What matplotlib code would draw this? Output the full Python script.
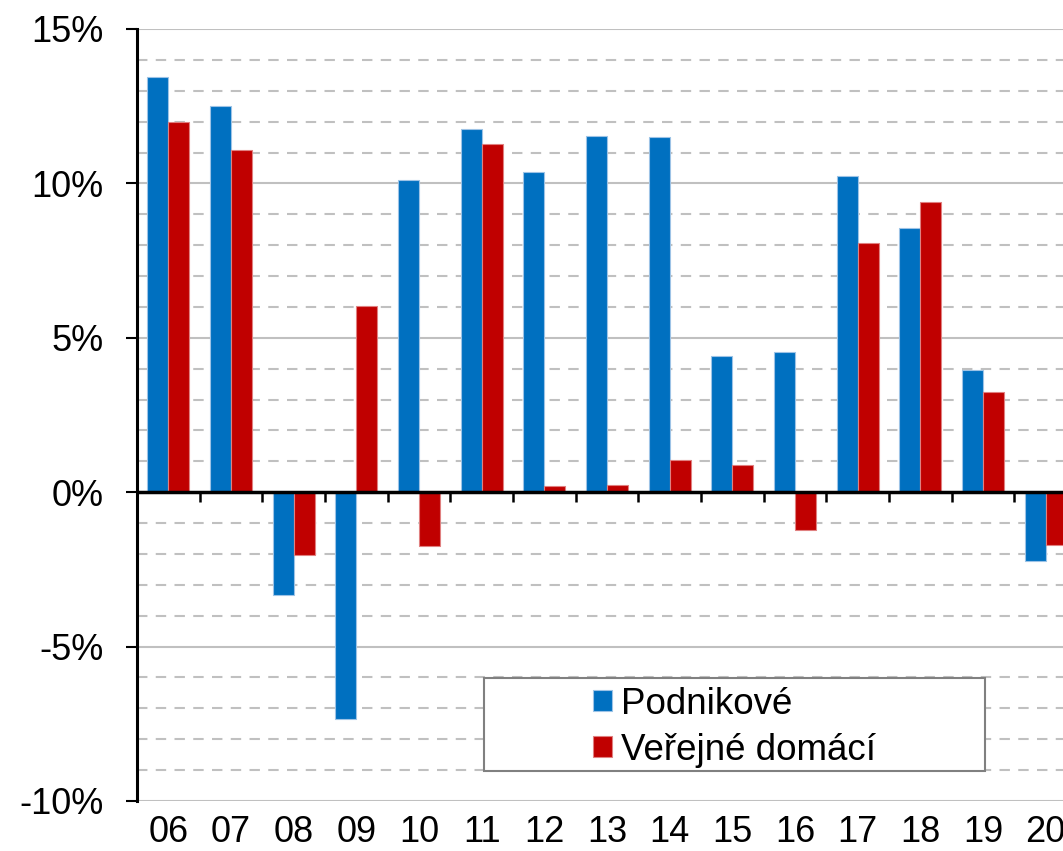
import matplotlib.pyplot as plt
import numpy as np
from matplotlib.patches import Rectangle

plt.rcParams['font.family'] = ['Liberation Sans', 'DejaVu Sans']

years = ["06", "07", "08", "09", "10", "11", "12", "13", "14", "15", "16", "17", "18", "19", "20"]
podnikove = [13.43, 12.52, -3.33, -7.35, 10.10, 11.75, 10.36, 11.55, 11.49, 4.40, 4.53, 10.23, 8.54, 3.95, -2.23]
verejne = [12.00, 11.07, -2.04, 6.02, -1.75, 11.26, 0.19, 0.23, 1.04, 0.87, -1.23, 8.06, 9.39, 3.24, -1.72]

blue = "#0070C0"
red = "#C00000"

fig = plt.figure(figsize=(10.63, 8.51), dpi=100)
# axes runs a bit past the right edge of the figure, like the original
ax = fig.add_axes([137 / 1063, 50 / 851, 940 / 1063, 772 / 851])

x = np.arange(len(years))
w = 0.335
ax.bar(x - w / 2, podnikove, w, color=blue, edgecolor="#9dc3e6", linewidth=0.8, label="Podnikové", zorder=3)
ax.bar(x + w / 2, verejne, w, color=red, edgecolor="#e08080", linewidth=0.8, label="Veřejné domácí", zorder=3)

ax.set_xlim(-0.5, len(years) - 0.5)
ax.set_ylim(-10, 15)

# grid: solid every 5 %, dashed every 1 %
for v in range(-10, 16):
    if v == 0:
        continue
    if v % 5 == 0:
        ax.axhline(v, color="#c0c0c0", lw=1.5, zorder=1)
    else:
        ax.axhline(v, color="#c0c0c0", lw=1.5, ls=(0, (5, 4)), zorder=1)

for s in ["top", "right", "bottom"]:
    ax.spines[s].set_visible(False)
ax.spines["left"].set_linewidth(2.2)
ax.spines["left"].set_zorder(4)

ax.set_yticks([-10, -5, 0, 5, 10, 15])
ax.set_yticklabels(["-10%", "-5%", "0%", "5%", "10%", "15%"])
ax.tick_params(axis="y", length=8, width=1.5, pad=16, labelsize=26)

# zero axis with category boundary ticks
ax.axhline(0, color="black", lw=2.5, zorder=4)
ax.set_xticks([])
ax.vlines(np.arange(len(years)) + 0.5, -0.33, 0, color="black", lw=1.8, zorder=4)

trans = ax.get_xaxis_transform()
for xi, lab in zip(x, years):
    ax.text(xi, -0.041, lab, transform=trans, ha="center", va="center", fontsize=26)

# legend
ax.add_patch(Rectangle((0.369, 0.039), 0.533, 0.12, transform=ax.transAxes,
                       facecolor="white", edgecolor="#808080", lw=1.5, zorder=5))
leg = ax.legend(loc="upper left", bbox_to_anchor=(0.485, 0.148), frameon=False, fontsize=26.5,
                handlelength=0.52, handleheight=0.52, handletextpad=0.25, labelspacing=0.3,
                borderaxespad=0, borderpad=0)
leg.set_zorder(6)

fig.savefig("out.png", dpi=100)
